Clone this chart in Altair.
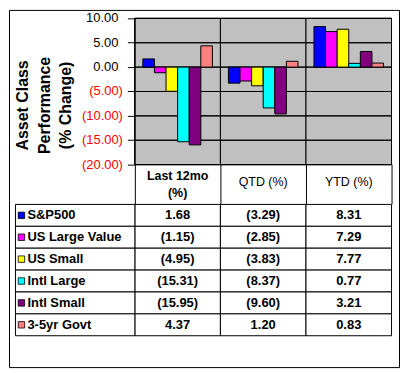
import altair as alt
import pandas as pd

# ---- data ----
CATEGORIES = ["Last 12mo (%)", "QTD (%)", "YTD (%)"]
SERIES = ["S&P500", "US Large Value", "US Small", "Intl Large", "Intl Small", "3-5yr Govt"]
COLORS = ["#0000FF", "#FF00FF", "#FFFF00", "#00FFFF", "#800080", "#FF8080"]
LAST_12MO = [1.68, -1.15, -4.95, -15.31, -15.95, 4.37]
QTD = [-3.29, -2.85, -3.83, -8.37, -9.60, 1.20]
YTD = [8.31, 7.29, 7.77, 0.77, 3.21, 0.83]
Y_TICKS = [-20, -15, -10, -5, 0, 5, 10]
Y_TITLE = ["Asset Class", "Performance", "(% Change)"]

# ---- tables built from the arrays ----
rows = []
for cat, vals in zip(CATEGORIES, [LAST_12MO, QTD, YTD]):
    for s, v in zip(SERIES, vals):
        rows.append({"category": cat, "series": s, "value": v,
                     "label": f"({abs(v):.2f})" if v < 0 else f"{v:.2f}"})
df = pd.DataFrame(rows)
grid_df = pd.DataFrame([{"category": c, "tick": t} for c in CATEGORIES for t in Y_TICKS])
cat_df = pd.DataFrame({"category": CATEGORIES})
legend_df = pd.DataFrame({"series": SERIES})

NEG_TICKS = [t for t in Y_TICKS if t < 0]
POS_TICKS = [t for t in Y_TICKS if t >= 0]

# ---- layout (pixels inside the frame) ----
W, H = 392, 359
PLOT_X0, PLOT_X1 = 126.5, 384.5
PLOT_Y_TOP, PLOT_Y_BOT = 8.5, 155.5
TABLE_Y0, TABLE_Y1 = 195.5, 327.5
LEG_X0 = 6.5
FONT = "Liberation Sans"

x_scale = alt.Scale(domain=CATEGORIES, range=[PLOT_X0, PLOT_X1], paddingInner=0, paddingOuter=0)
y_scale = alt.Scale(domain=[-20, 10], range=[PLOT_Y_BOT, PLOT_Y_TOP], nice=False, zero=False)
row_scale = alt.Scale(domain=SERIES, range=[TABLE_Y0, TABLE_Y1], paddingInner=0, paddingOuter=0)
leg_scale = alt.Scale(domain=[0, 1], range=[LEG_X0, PLOT_X0], nice=False, zero=False)
color_scale = alt.Scale(domain=SERIES, range=COLORS)

LABEL_EXPR = ("datum.value < 0 ? '(' + format(-datum.value, '.2f') + ')' "
              ": format(datum.value, '.2f')")

x_axis = alt.Axis(
    orient="bottom", offset=PLOT_Y_BOT - H, translate=0, grid=False,
    domain=True, domainColor="black", ticks=True, tickBand="extent", tickSize=40,
    tickColor="black", labelAngle=0, labelPadding=-28.5,
    labelBaseline={"condition": {"test": "datum.value == 'Last 12mo (%)'", "value": "middle"},
                   "value": "top"},
    labelFontSize=12.5, labelLineHeight=17, labelColor="black",
    labelOverlap=False, labelFlush=False,
    labelExpr="datum.value == 'Last 12mo (%)' ? ['Last 12mo', '(%)'] : datum.label",
    labelFontWeight={"condition": {"test": "datum.value == 'Last 12mo (%)'", "value": "bold"},
                     "value": "normal"},
    title=None,
)
# negative tick labels: red, in parentheses; this axis carries the title
y_axis_neg = alt.Axis(
    orient="left", offset=-PLOT_X0, translate=0, values=NEG_TICKS, grid=False, zindex=1,
    domainColor="black", ticks=True, tickColor="black", tickWidth=1, tickSize=7, labelPadding=5,
    labelFontSize=13, labelColor="#FF0000", labelOverlap=False, labelFlush=False,
    labelExpr=LABEL_EXPR,
    title=Y_TITLE, titleFontSize=16, titleFontWeight="bold", titleLineHeight=21.5,
    titleBaseline="bottom", titleX=-104, titleY=96, titleColor="black",
)
# non-negative tick labels: black, leaving room for the absent ")"
y_axis_pos = alt.Axis(
    orient="left", offset=-PLOT_X0, translate=0, values=POS_TICKS, grid=False, zindex=1,
    domainColor="black", ticks=True, tickColor="black", tickWidth=1, tickSize=7, labelPadding=9.5,
    labelFontSize=13, labelColor="black", labelOverlap=False, labelFlush=False,
    labelExpr=LABEL_EXPR, title=None,
)

bg = alt.Chart(cat_df).mark_rect(fill="#C0C0C0", stroke="black", strokeWidth=1).encode(
    x=alt.X("category:N", scale=x_scale, axis=None),
    y=alt.YDatum(datum=-20, type="quantitative", scale=y_scale, axis=None),
    y2=alt.datum(10),
)
grid = alt.Chart(grid_df).mark_rect(fill="black", stroke="black", strokeWidth=1).encode(
    x=alt.X("category:N", scale=x_scale, axis=None),
    y=alt.Y("tick:Q", scale=y_scale, axis=y_axis_pos),
    y2="tick:Q",
)
bars = alt.Chart(df).mark_bar(stroke="black", strokeWidth=1, opacity=1).encode(
    x=alt.X("category:N", scale=x_scale, axis=x_axis),
    xOffset=alt.XOffset("series:N", sort=SERIES,
                        scale=alt.Scale(domain=SERIES, paddingInner=0, paddingOuter=0.69)),
    y=alt.Y("value:Q", scale=y_scale, axis=y_axis_neg),
    y2=alt.datum(0),
    color=alt.Color("series:N", scale=color_scale, legend=None),
)
cells = alt.Chart(df).mark_rect(fill="white", stroke="black", strokeWidth=1).encode(
    x=alt.X("category:N", scale=x_scale, axis=None),
    y=alt.Y("series:N", scale=row_scale, axis=None),
)
values = alt.Chart(df).mark_text(font=FONT, fontSize=13, fontWeight="bold", color="black").encode(
    x=alt.X("category:N", scale=x_scale, axis=None),
    y=alt.Y("series:N", scale=row_scale, axis=None),
    text="label:N",
)
leg_cells = alt.Chart(legend_df).mark_rect(fill="white", stroke="black", strokeWidth=1).encode(
    x=alt.XDatum(datum=0, type="quantitative", scale=leg_scale, axis=None),
    x2=alt.datum(1),
    y=alt.Y("series:N", scale=row_scale, axis=None),
)
squares = alt.Chart(legend_df).mark_square(size=42, filled=True, opacity=1, stroke="black",
                                           strokeWidth=0.8).encode(
    x=alt.XDatum(datum=0.05, type="quantitative", scale=leg_scale, axis=None),
    y=alt.Y("series:N", scale=row_scale, axis=None),
    color=alt.Color("series:N", scale=color_scale, legend=None),
)
leg_text = alt.Chart(legend_df).mark_text(font=FONT, fontSize=13, fontWeight="bold", align="left",
                                          baseline="middle", color="black").encode(
    x=alt.XDatum(datum=0.1, type="quantitative", scale=leg_scale, axis=None),
    y=alt.Y("series:N", scale=row_scale, axis=None),
    text="series:N",
)

chart = alt.layer(bg, grid, bars, cells, values, leg_cells, squares, leg_text).resolve_scale(
    x="independent", y="independent"
).properties(
    width=W, height=H, padding=1, autosize=alt.AutoSizeParams(type="none"), background="white"
).configure(font=FONT).configure_view(stroke="black", strokeWidth=1)

chart.save("out.html", embed_options={"renderer": "svg", "actions": False})
